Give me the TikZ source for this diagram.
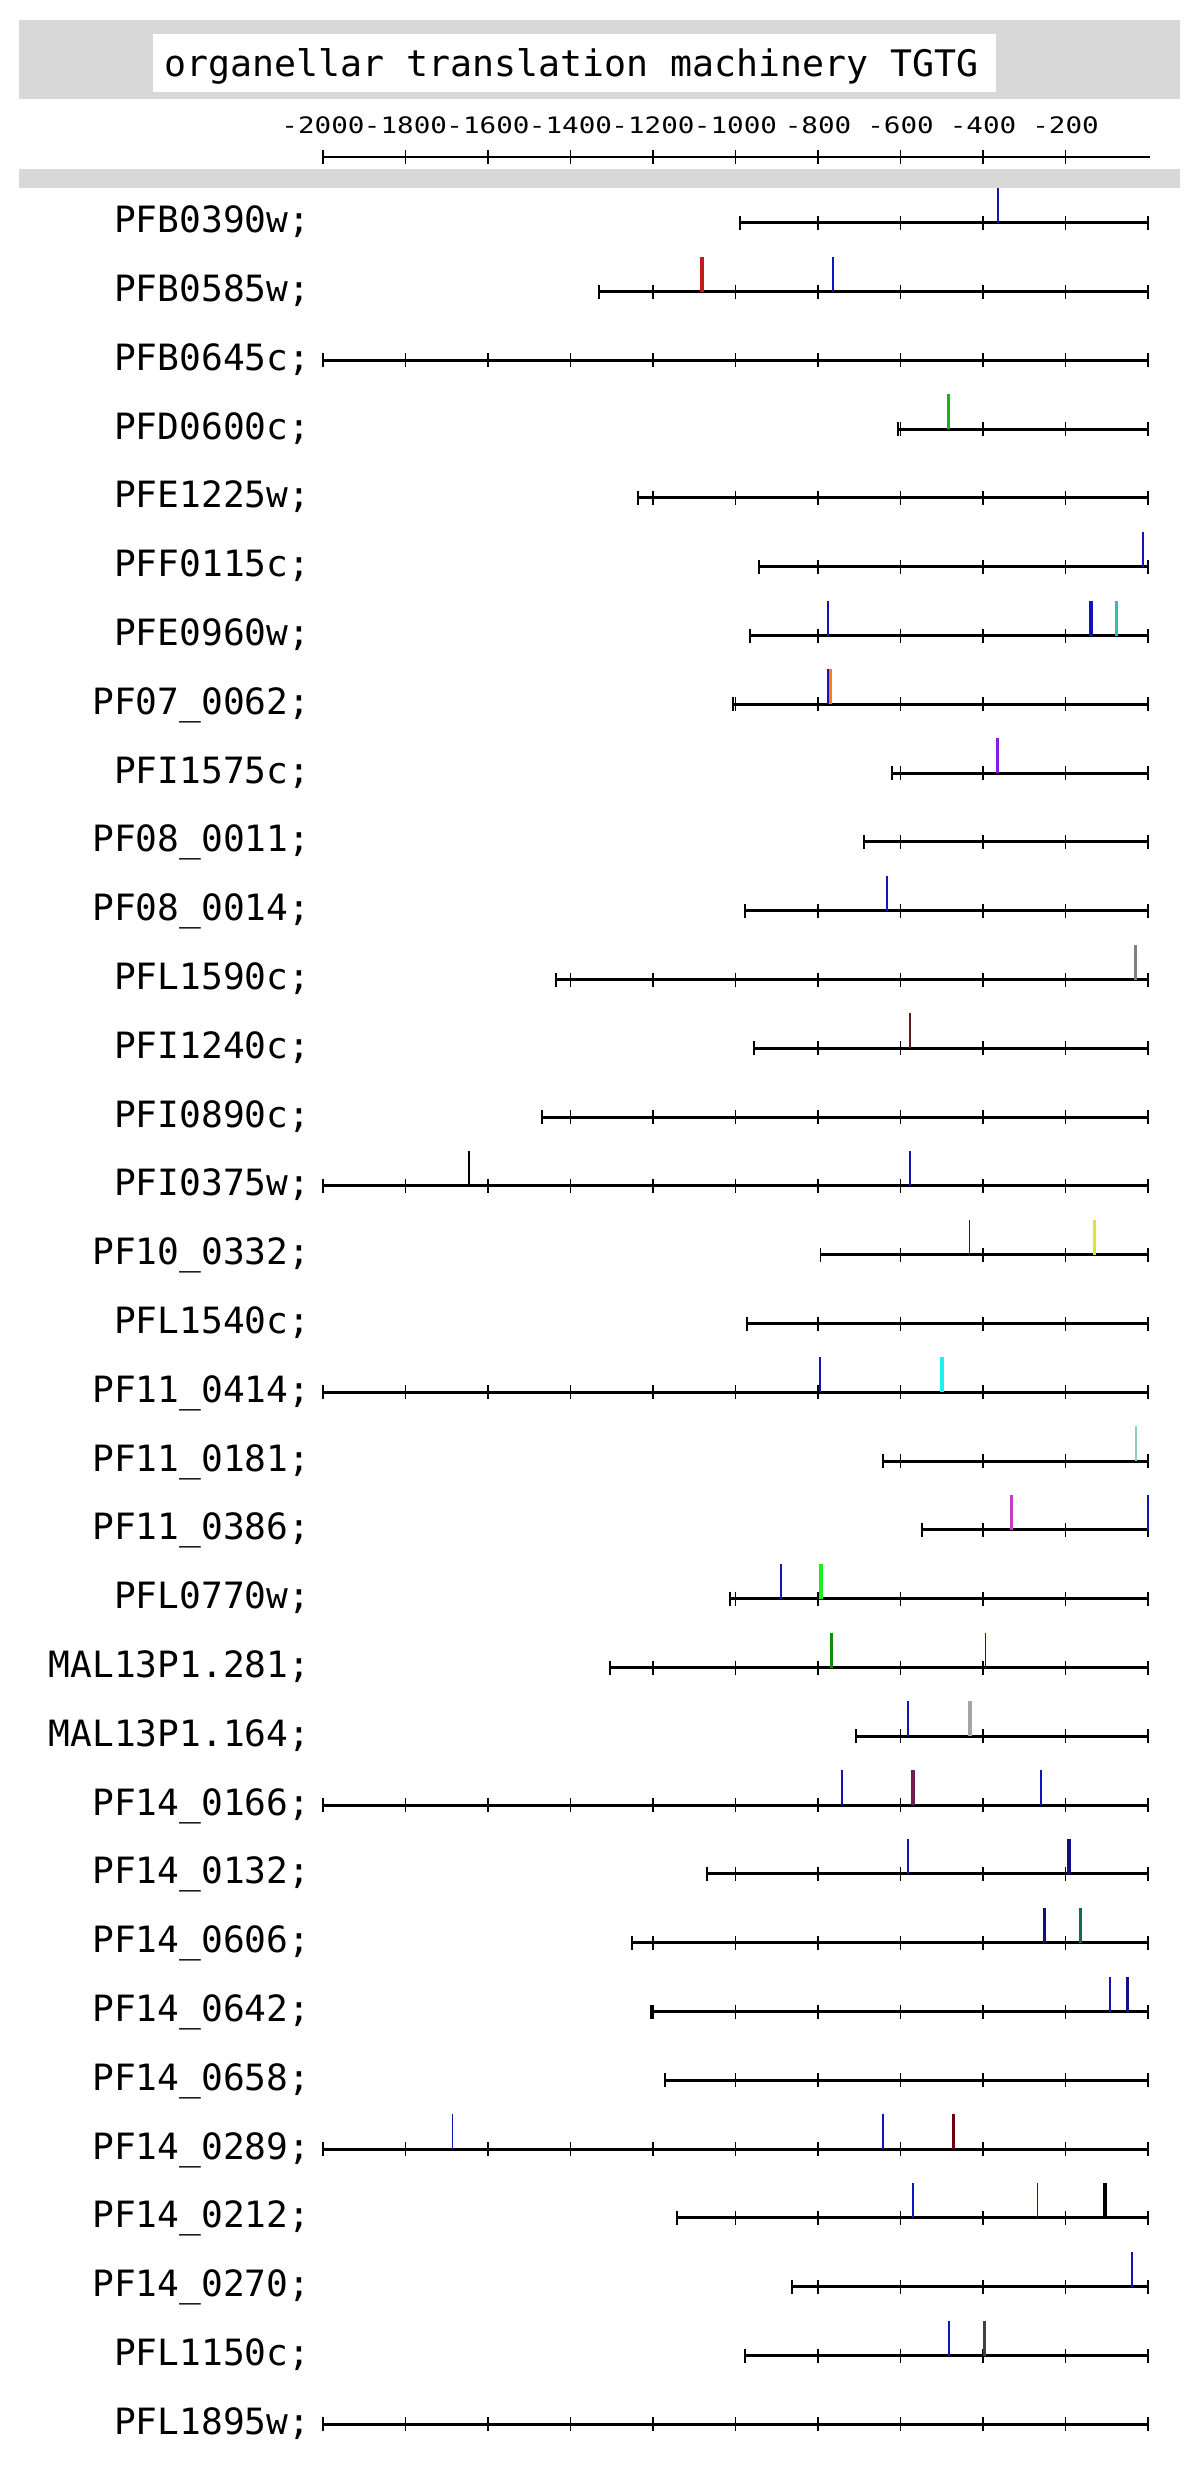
\documentclass[tikz,border=0pt]{standalone}
\usepackage{fontspec}
\usepackage{xcolor}
\usepackage{tikz}
\usetikzlibrary{positioning}
\newfontfamily\monofont{DejaVu Sans Mono}

\definecolor{hdrgrey}{RGB}{216,216,216}
\definecolor{mblue}{RGB}{20,20,190}
\definecolor{mnavy}{RGB}{16,16,130}
\definecolor{mred}{RGB}{190,30,30}
\definecolor{mgreen}{RGB}{30,175,30}
\definecolor{mteal}{RGB}{50,190,175}
\definecolor{morange}{RGB}{255,130,0}
\definecolor{mviolet}{RGB}{128,30,230}
\definecolor{mgrey}{RGB}{128,128,128}
\definecolor{mbrown}{RGB}{96,30,30}
\definecolor{myellow}{RGB}{225,225,60}
\definecolor{mcyan}{RGB}{30,240,240}
\definecolor{mseafoam}{RGB}{140,210,180}
\definecolor{mmagenta}{RGB}{195,60,195}
\definecolor{mlime}{RGB}{30,240,30}
\definecolor{mdgreen}{RGB}{16,140,16}
\definecolor{mlgrey}{RGB}{165,165,165}
\definecolor{mplum}{RGB}{110,30,80}
\definecolor{mdteal}{RGB}{16,110,80}
\definecolor{mmaroon}{RGB}{110,0,16}
\definecolor{mdgrey}{RGB}{64,64,64}

\begin{document}
\begin{tikzpicture}[x=0.1mm, y=-0.1mm,
    rowline/.style={line width=0.85pt, black},
    tk/.style={line width=0.55pt, black},
    title/.style={font=\monofont\fontsize{10.4}{12}\selectfont, inner sep=0pt},
    axlbl/.style={font=\monofont\fontsize{7.85}{10}\selectfont, anchor=base, inner sep=0pt},
    lbl/.style={font=\monofont\fontsize{10.3}{12}\selectfont, anchor=base east, inner sep=0pt}]
    \useasboundingbox (0,0) rectangle (1200,2471);

    % Tiêu đề
    \fill[hdrgrey] (19,20) rectangle (1180,99);
    \fill[white] (153,34) rectangle (996,92);
    \node[title, anchor=base west] (title) at (164,76) {organellar translation machinery TGTG};

    % Trục tọa độ
    \draw[rowline] (322,157) -- (1150,157);
    \foreach \v [count=\i] in {-2000,-1800,...,-200} {
        \draw[tk] ({1148+0.4125*\v},150) -- ++(0,14);
        \node[axlbl] (ax\i) at ({1148+0.4125*\v},133) {\scalebox{1}[0.82]{\v}};
    }
    \fill[hdrgrey] (19,169) rectangle (1180,188);

    % Các gen
    \foreach \nm/\st [count=\i] in {PFB0390w/-990, PFB0585w/-1330, PFB0645c/-2000,
        PFD0600c/-605, PFE1225w/-1237, PFF0115c/-943, PFE0960w/-964,
        PF07\_0062/-1005, PFI1575c/-621, PF08\_0011/-688, PF08\_0014/-977,
        PFL1590c/-1436, PFI1240c/-956, PFI0890c/-1470, PFI0375w/-2000,
        PF10\_0332/-794, PFL1540c/-971, PF11\_0414/-2000, PF11\_0181/-642,
        PF11\_0386/-549, PFL0770w/-1014, MAL13P1.281/-1304, MAL13P1.164/-709,
        PF14\_0166/-2000, PF14\_0132/-1070, PF14\_0606/-1250, PF14\_0642/-1204,
        PF14\_0658/-1170, PF14\_0289/-2000, PF14\_0212/-1142, PF14\_0270/-863,
        PFL1150c/-977, PFL1895w/-2000} {
        \pgfmathsetmacro\yy{222.7+(\i-1)*68.8}
        \node[lbl] (g\i) at (311,\yy+10) {\nm;};
        \draw[rowline] ({1148+0.4125*\st},\yy) -- (1148,\yy);
        \draw[tk] ({1148+0.4125*\st},\yy-7) -- ++(0,14);
        \foreach \t in {-2000,-1800,...,0} {
            \ifnum\t>\st
                \draw[tk] ({1148+0.4125*\t},\yy-7) -- ++(0,14);
            \fi
        }
    }

    % Các vị trí TGTG
    \foreach \r/\v/\c/\w in {1/-363/mblue/0.5, 2/-1081/mred/1, 2/-763/mblue/0.5,
        4/-484/mgreen/1, 6/-13/mblue/0.5, 7/-776/mblue/0.5, 7/-138/mblue/1,
        7/-76/mteal/1, 8/-770/morange/1, 8/-776/mblue/0.5, 9/-365/mviolet/1,
        11/-633/mblue/0.5, 12/-30/mgrey/1, 13/-577/mbrown/0.7,
        15/-1646/black/0.5, 15/-577/mblue/0.5, 16/-433/mblue/0.5,
        16/-130/myellow/1, 18/-796/mblue/0.5, 18/-499/mcyan/1,
        19/-30/mseafoam/0.5, 20/-331/mmagenta/1, 20/0/mblue/0.5,
        21/-889/mblue/0.5, 21/-793/mlime/1, 22/-767/mdgreen/1,
        22/-394/mblue/0.5, 23/-582/mblue/0.5, 23/-432/mlgrey/1,
        24/-742/mblue/0.5, 24/-569/mplum/1.2, 24/-260/mblue/0.5,
        25/-582/mblue/0.5, 25/-192/mnavy/1, 26/-251/mnavy/1, 26/-164/mdteal/1,
        27/-93/mblue/0.5, 27/-50/mnavy/1, 29/-1686/mblue/0.5,
        29/-642/mblue/0.5, 29/-471/mmaroon/1, 30/-569/mblue/0.5,
        30/-268/mblue/0.5, 30/-104/black/1, 31/-39/mblue/0.5,
        32/-482/mblue/0.5, 32/-396/mdgrey/1} {
        \pgfmathsetmacro\yy{222.7+(\r-1)*68.8}
        \draw[line width=\w pt, \c] ({1148+0.4125*\v},\yy) -- ++(0,-35);
    }
\end{tikzpicture}
\end{document}
